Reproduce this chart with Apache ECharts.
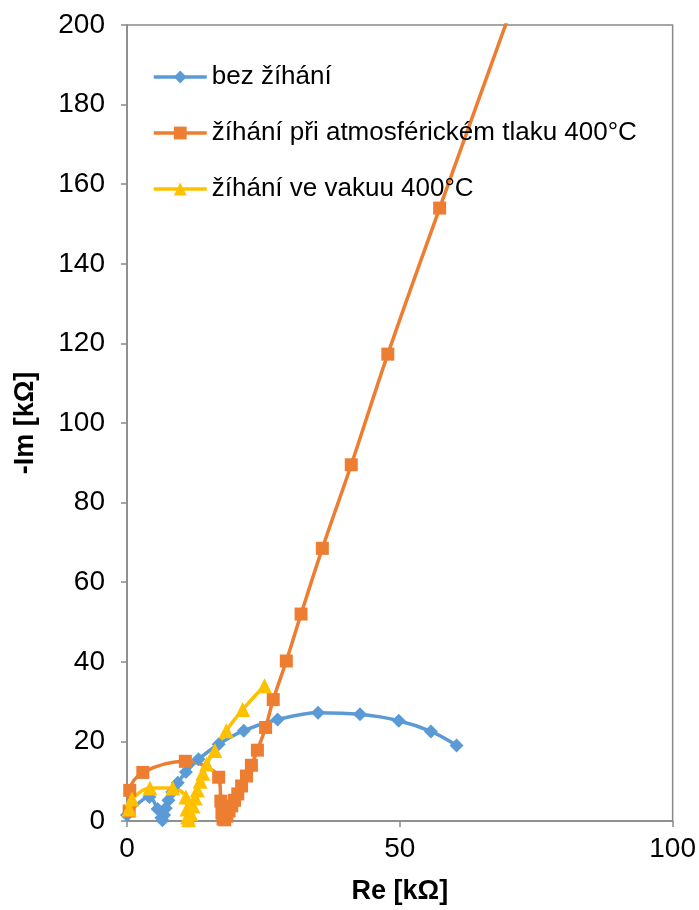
<!DOCTYPE html>
<html>
<head>
<meta charset="utf-8">
<script src="https://cdn.jsdelivr.net/npm/echarts@6/dist/echarts.min.js"></script>
<style>
html,body{margin:0;padding:0;background:#fff;}
#chart{width:699px;height:910px;}
</style>
</head>
<body>
<div id="chart"></div>
<script>
// Data: [Re kΩ, -Im kΩ]
const seriesNames = ['bez žíhání', 'žíhání při atmosférickém tlaku 400°C', 'žíhání ve vakuu 400°C'];
const bezZihani = [[0,1.5],[4.1,6.0],[5.6,3.0],[6.3,0.8],[6.5,0.2],[6.8,1.5],[7.1,3.2],[7.6,5.2],[8.3,7.3],[9.3,9.6],[10.8,12.3],[13.1,15.5],[16.8,19.3],[21.4,22.7],[27.6,25.5],[35.0,27.2],[42.7,26.8],[49.8,25.2],[55.7,22.5],[60.4,19.0]];
const atmosfera = [[0.4,2.5],[0.5,7.7],[2.9,12.2],[10.7,15.0],[16.8,11.0],[17.2,5.0],[17.4,2.0],[17.6,0.5],[17.9,0.3],[18.3,1.2],[18.7,2.5],[19.2,3.8],[19.7,5.2],[20.3,6.8],[21.0,8.8],[21.9,11.3],[22.8,14.0],[23.9,17.8],[25.4,23.5],[26.8,30.5],[29.2,40.2],[31.9,52.0],[35.8,68.5],[41.1,89.5],[47.8,117.3],[57.3,154.0],[72.0,210.0]];
const vakuum = [[0.4,3.0],[0.9,5.5],[4.2,8.3],[8.4,8.3],[10.8,6.0],[11.0,3.0],[11.1,1.0],[11.3,0.3],[11.7,1.8],[12.1,3.8],[12.5,5.8],[12.9,7.8],[13.4,10.0],[13.9,12.0],[14.6,14.3],[16.1,17.7],[18.2,22.7],[21.2,28.0],[25.2,34.0]];
const xTicks = {min:0, max:100, interval:50};
const yTicks = {min:0, max:200, interval:20};
const colors = ['#5B9BD5', '#ED7D31', '#FFC000'];

const FONT = 'Liberation Sans';
const chart = echarts.init(document.getElementById('chart'), null, {renderer:'canvas'});
const axisLine = {show:true, lineStyle:{color:'#898989', width:1.5}};
const option = {
  animation:false,
  backgroundColor:'#fff',
  textStyle:{fontFamily:FONT},
  grid:{left:127, right:24, top:25, bottom:86, show:true, borderColor:'#898989', borderWidth:1.5, containLabel:false},
  legend:{
    orient:'vertical', left:147, top:59, itemWidth:53, itemHeight:16, itemGap:30,
    selectedMode:false,
    lineStyle:{width:3.5},
    textStyle:{fontFamily:FONT, fontSize:26, color:'#000', padding:[0,0,0,0]},
    data:seriesNames
  },
  xAxis:{
    type:'value', min:xTicks.min, max:xTicks.max, interval:xTicks.interval,
    name:'Re [kΩ]', nameLocation:'middle', nameGap:57,
    nameTextStyle:{fontFamily:FONT, fontSize:27, fontWeight:'bold', color:'#000'},
    axisLine:axisLine, axisTick:{show:true, inside:false, length:6, lineStyle:{color:'#898989', width:1.5}},
    axisLabel:{fontFamily:FONT, fontSize:28, color:'#000', margin:14},
    splitLine:{show:false}
  },
  yAxis:{
    type:'value', min:yTicks.min, max:yTicks.max, interval:yTicks.interval,
    name:'-Im [kΩ]', nameLocation:'middle', nameGap:88, nameRotate:90,
    nameTextStyle:{fontFamily:FONT, fontSize:27, fontWeight:'bold', color:'#000'},
    axisLine:axisLine, axisTick:{show:true, inside:false, length:6, lineStyle:{color:'#898989', width:1.5}},
    axisLabel:{fontFamily:FONT, fontSize:28, color:'#000', margin:22},
    splitLine:{show:false}
  },
  series:[
    {name:seriesNames[0], type:'line', data:bezZihani, smooth:0.35, symbol:'diamond', symbolSize:14,
     lineStyle:{width:3.5, color:colors[0]}, itemStyle:{color:colors[0]}, clip:true},
    {name:seriesNames[1], type:'line', data:atmosfera, smooth:0.35, symbol:'rect', symbolSize:13,
     lineStyle:{width:3.5, color:colors[1]}, itemStyle:{color:colors[1]}, clip:true},
    {name:seriesNames[2], type:'line', data:vakuum, smooth:0.35, symbol:'triangle', symbolSize:15,
     lineStyle:{width:3.5, color:colors[2]}, itemStyle:{color:colors[2]}, clip:true}
  ]
};
chart.setOption(option);
</script>
</body>
</html>
